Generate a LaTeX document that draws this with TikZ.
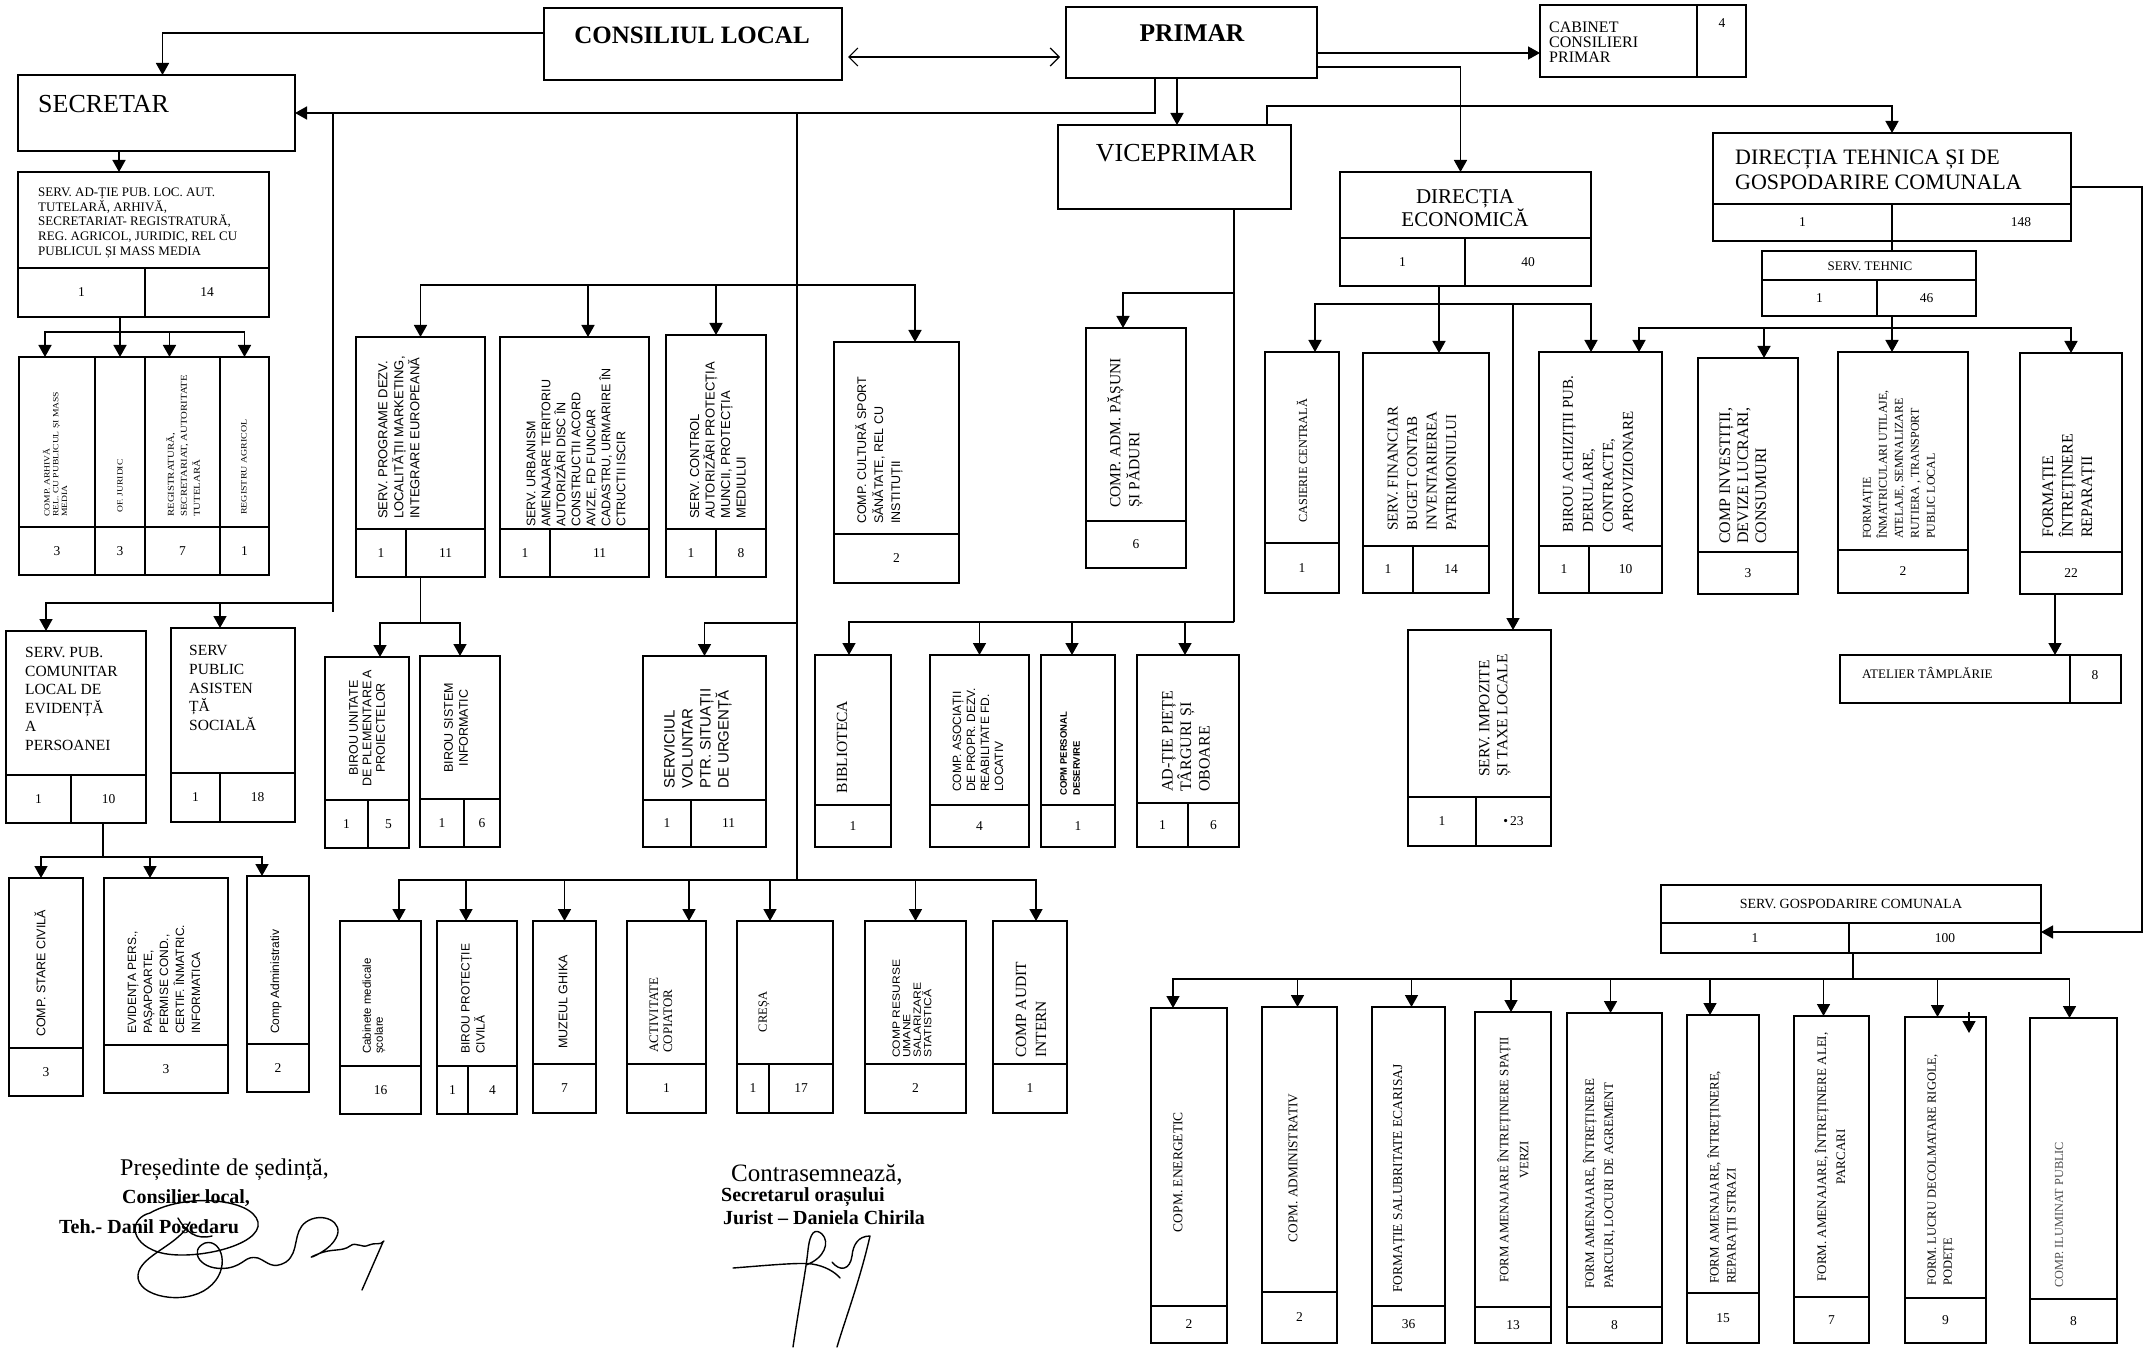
\documentclass[tikz,border=0pt]{standalone}
\usepackage{fontspec}
\setmainfont{Liberation Serif}
\newfontfamily\sa{Liberation Sans}
\newfontfamily\sw[FakeStretch=1.2]{Liberation Serif}
\newfontfamily\aw[FakeStretch=1.15]{Liberation Sans}
\usetikzlibrary{arrows.meta}
\newcommand\fs[2]{\fontsize{#1}{#2}\selectfont}
\newcommand\bx[5]{%
  \pgfmathsetmacro\bxw{#4-#2}\pgfmathsetmacro\bxh{#5-#3}%
  \pgfmathsetmacro\bxcx{(#2+#4)/2}\pgfmathsetmacro\bxcy{(#3+#5)/2}%
  \node[box, minimum width=\bxw pt, minimum height=\bxh pt] (#1) at (\bxcx,\bxcy) {};}
\newcommand\cb[9]{%
  \bx{#1}{#2}{#3}{#4}{#5}%
  \draw[cell] (#2,#6) -- (#4,#6);%
  \pgfmathsetmacro\ccy{(#6+#5)/2}%
  \ifnum#7=0\relax
    \pgfmathsetmacro\ccx{(#2+#4)/2}%
    \node[cnt] (#1-a) at (\ccx,\ccy) {#8};%
  \else
    \draw[cell] (#7,#6) -- (#7,#5);%
    \pgfmathsetmacro\ccx{(#2+#7)/2}%
    \node[cnt] (#1-a) at (\ccx,\ccy) {#8};%
    \pgfmathsetmacro\ccx{(#7+#4)/2}%
    \node[cnt] (#1-b) at (\ccx,\ccy) {#9};%
  \fi}
\begin{document}
\begin{tikzpicture}[x=1pt,y=-1pt,
  box/.style={draw,line width=1.8pt,inner sep=0pt,outer sep=0pt},
  cell/.style={line width=1.5pt},
  conn/.style={line width=1.6pt},
  arr/.style={line width=1.6pt,-{Triangle[width=13pt,length=12pt]}},
  dbl/.style={line width=1.2pt,{Straight Barb[length=9pt,width=18pt]}-{Straight Barb[length=9pt,width=18pt]}},
  cnt/.style={inner sep=0pt,font={\fs{13.5}{15}}},
  tx/.style={inner sep=0pt,align=left},
  rt/.style={rotate=90,inner sep=0pt,align=left},
  sig/.style={line width=1.4pt,line cap=round,line join=round}]
\fill[white] (0,0) rectangle (2148,1348);
\useasboundingbox (0,0) rectangle (2148,1348);

% ---------------- boxes
\bx{cl}{544}{8}{842}{80}
\bx{pr}{1066}{7}{1317}{78}
\bx{cab}{1540}{5}{1746}{77}
\draw[cell] (1697,5) -- (1697,77);
\bx{sec}{18}{75}{295}{151}
\bx{vice}{1058}{125}{1291}{209}
\cb{dec}{1340}{172}{1591}{286}{238}{1465}{1}{40}
\cb{dte}{1713}{133}{2071}{241}{204}{1892}{1}{}
\node[cnt] (dte-n) at (2021,222) {148};
\cb{ts}{1762}{251}{1976}{316}{280}{1877}{1}{46}
\cb{adt}{18}{172}{269}{317}{268}{145}{1}{14}
\cb{s1}{19}{357}{95}{575}{527}{0}{3}{}
\cb{s2}{95}{357}{145}{575}{527}{0}{3}{}
\cb{s3}{145}{357}{220}{575}{527}{0}{7}{}
\cb{s4}{220}{357}{269}{575}{527}{0}{1}{}
\cb{spub}{6}{631}{146}{823}{775}{71}{1}{10}
\cb{asist}{171}{628}{295}{822}{773}{220}{1}{18}
\cb{stare}{9}{878}{83}{1096}{1048}{0}{3}{}
\cb{evid}{104}{878}{228}{1093}{1045}{0}{3}{}
\cb{cadm}{247}{876}{309}{1092}{1044}{0}{2}{}
\cb{prog}{356}{337}{485}{577}{529}{406}{1}{11}
\cb{urb}{500}{337}{649}{577}{529}{550}{1}{11}
\cb{ctrl}{666}{335}{766}{577}{529}{716}{1}{8}
\cb{cult}{834}{342}{959}{583}{534}{0}{2}{}
\cb{pas}{1086}{328}{1186}{568}{521}{0}{6}{}
\cb{cas}{1265}{352}{1339}{593}{543}{0}{1}{}
\cb{fin}{1363}{353}{1489}{593}{546}{1413}{1}{14}
\cb{bir}{1539}{352}{1662}{593}{546}{1589}{1}{10}
\cb{inv}{1698}{358}{1798}{594}{552}{0}{3}{}
\cb{inm}{1838}{352}{1968}{593}{550}{0}{2}{}
\cb{intr}{2020}{353}{2122}{594}{552}{0}{22}{}
\bx{atel}{1840}{655}{2121}{703}
\draw[cell] (2070,655) -- (2070,703);
\cb{imp}{1408}{630}{1551}{846}{797}{1476}{1}{\textbullet\,23}
\cb{unit}{325}{657}{409}{848}{800}{368}{1}{5}
\cb{sist}{420}{656}{500}{847}{799}{464}{1}{6}
\cb{vol}{643}{656}{766}{847}{800}{691}{1}{11}
\cb{bibl}{815}{655}{891}{847}{805}{0}{1}{}
\cb{asoc}{930}{655}{1029}{847}{805}{0}{4}{}
\cb{pers}{1041}{655}{1115}{847}{805}{0}{1}{}
\cb{piete}{1137}{655}{1239}{847}{803}{1188}{1}{6}
\cb{cabm}{340}{921}{421}{1114}{1066}{0}{16}{}
\cb{prot}{437}{921}{517}{1114}{1066}{468}{1}{4}
\cb{muz}{533}{921}{596}{1113}{1064}{0}{7}{}
\cb{cop}{627}{921}{706}{1113}{1064}{0}{1}{}
\cb{cre}{737}{921}{833}{1113}{1064}{769}{1}{17}
\cb{res}{865}{921}{966}{1113}{1064}{0}{2}{}
\cb{aud}{993}{921}{1067}{1113}{1064}{0}{1}{}
\cb{gosp}{1661}{885}{2041}{953}{923}{1849}{1}{100}
\cb{b1}{1151}{1008}{1227}{1343}{1306}{0}{2}{}
\cb{b2}{1262}{1007}{1337}{1343}{1292}{0}{2}{}
\cb{b3}{1372}{1007}{1445}{1343}{1306}{0}{36}{}
\cb{b4}{1475}{1012}{1551}{1343}{1307}{0}{13}{}
\cb{b5}{1567}{1013}{1662}{1343}{1307}{0}{8}{}
\cb{b6}{1687}{1015}{1759}{1343}{1293}{0}{15}{}
\cb{b7}{1794}{1016}{1869}{1343}{1297}{0}{7}{}
\cb{b8}{1905}{1017}{1986}{1343}{1298}{0}{9}{}
\cb{b9}{2030}{1018}{2117}{1343}{1299}{0}{8}{}

% ---------------- horizontal texts
\node[tx,font={\bfseries\fs{25}{28}}] (cl-t) at (692,35) {CONSILIUL LOCAL};
\node[tx,font={\bfseries\fs{25.5}{28}}] (pr-t) at (1192,33) {PRIMAR};
\node[tx,font={\fs{16}{15}},anchor=west] (cab-t) at (1549,42) {CABINET\\CONSILIERI\\PRIMAR};
\node[cnt] (cab-n) at (1722,23) {4};
\node[tx,font={\fs{26}{28}},anchor=west] (sec-t) at (38,104) {SECRETAR};
\node[tx,font={\fs{26}{28}}] (vice-t) at (1176,153) {VICEPRIMAR};
\node[tx,align=center,font={\fs{21}{23}}] (dec-t) at (1465,208) {DIRECȚIA\\ECONOMICĂ};
\node[tx,font={\fs{22}{25}},anchor=west] (dte-t) at (1735,170) {DIRECȚIA TEHNICA ȘI DE\\GOSPODARIRE COMUNALA};
\node[tx,font={\fs{13}{15}}] (ts-t) at (1870,266) {SERV. TEHNIC};
\node[tx,font={\fs{13}{14.7}},anchor=west] (adt-t) at (38,223) {SERV. AD-ȚIE PUB. LOC. AUT.\\TUTELARĂ, ARHIVĂ,\\SECRETARIAT- REGISTRATURĂ,\\REG. AGRICOL, JURIDIC, REL CU\\PUBLICUL ȘI MASS MEDIA};
\node[tx,font={\fs{15.5}{18.6}},anchor=west] (spub-t) at (25,699) {SERV. PUB.\\COMUNITAR\\LOCAL DE\\EVIDENȚĂ\\A\\PERSOANEI};
\node[tx,font={\fs{15.5}{18.6}},anchor=west] (asist-t) at (189,688) {SERV\\PUBLIC\\ASISTEN\\ȚĂ\\SOCIALĂ};
\node[tx,font={\fs{13}{15}},anchor=west] (atel-t) at (1862,673) {ATELIER TÂMPLĂRIE};
\node[cnt] (atel-n) at (2095,675) {8};
\node[tx,font={\fs{14}{16}}] (gosp-t) at (1851,904) {SERV. GOSPODARIRE COMUNALA};

% ---------------- rotated texts
\node[rt,font={\sw\fs{8}{8.7}},anchor=west] (s1-t) at (55,517) {COMP. ARHIVĂ\\REL. CU PUBLICUL ȘI MASS\\MEDIA};
\node[rt,font={\sw\fs{8}{9}}] (s2-t) at (120,486) {OF. JURIDIC};
\node[rt,font={\sw\fs{9}{13}},anchor=west] (s3-t) at (183,517) {REGISTRATURĂ,\\SECRETARIAT, AUTORITATE\\TUTELARĂ};
\node[rt,font={\sw\fs{8.3}{9}},anchor=west] (s4-t) at (244,515) {REGISTRU AGRICOL};
\node[rt,font={\sa\fs{13}{16}},anchor=west] (prog-t) at (399,519) {SERV. PROGRAME DEZV.\\LOCALITĂȚII MARKETING,\\INTEGRARE EUROPEANĂ};
\node[rt,font={\sa\fs{12.5}{15}},anchor=west] (urb-t) at (576,527) {SERV. URBANISM\\AMENAJARE TERITORIU\\AUTORIZĂRI DISC ÎN\\CONSTRUCTII ACORD\\AVIZE, FD FUNCIAR\\CADASTRU, URMARIRE ÎN\\CTRUCTII ISCIR};
\node[rt,font={\sa\fs{13}{15.5}},anchor=west] (ctrl-t) at (718,519) {SERV. CONTROL\\AUTORIZĂRI PROTECȚIA\\MUNCII, PROTECȚIA\\MEDIULUI};
\node[rt,font={\sa\fs{12.5}{17}},anchor=west] (cult-t) at (879,524) {COMP. CULTURĂ SPORT\\SĂNĂTATE, REL CU\\INSTITUȚII};
\node[rt,font={\fs{15.5}{19}},anchor=west] (pas-t) at (1125,508) {COMP. ADM. PĂȘUNI\\ȘI PĂDURI};
\node[rt,font={\fs{12.3}{14}},anchor=west] (cas-t) at (1302,523) {CASIERIE CENTRALĂ};
\node[rt,font={\fs{15}{19.5}},anchor=west] (fin-t) at (1422,531) {SERV. FINANCIAR\\BUGET CONTAB\\INVENTARIEREA\\PATRIMONIULUI};
\node[rt,font={\fs{15}{20}},anchor=west] (bir-t) at (1598,533) {BIROU ACHIZIȚII PUB.\\DERULARE,\\CONTRACTE,\\APROVIZIONARE};
\node[rt,font={\fs{16}{18}},anchor=west] (inv-t) at (1743,544) {COMP INVESTIȚII,\\DEVIZE LUCRARI,\\CONSUMURI};
\node[rt,font={\fs{12}{16}},anchor=west] (inm-t) at (1899,539) {FORMAȚIE\\ÎNMATRICULARI UTILAJE,\\ATELAJE, SEMNALIZARE\\RUTIERA , TRANSPORT\\PUBLIC LOCAL};
\node[rt,font={\fs{16}{19.5}},anchor=west] (intr-t) at (2069,538) {FORMAȚIE\\ÎNTREȚINERE\\REPARAȚII};
\node[rt,font={\fs{15.5}{18}},anchor=west] (imp-t) at (1495,777) {SERV. IMPOZITE\\ȘI TAXE LOCALE};
\node[rt,align=center,font={\sa\fs{12.5}{13.5}}] (unit-t) at (367,728) {BIROU UNITATE\\DE PLEMENTARE A\\PROIECTELOR};
\node[rt,align=center,font={\sa\fs{12.5}{15}}] (sist-t) at (456,728) {BIROU SISTEM\\INFORMATIC};
\node[rt,font={\sa\fs{15}{18}},anchor=west] (vol-t) at (698,789) {SERVICIUL\\VOLUNTAR\\PTR. SITUAȚII\\DE URGENȚĂ};
\node[rt,font={\fs{15.5}{18}}] (bibl-t) at (842,747) {BIBLIOTECA};
\node[rt,font={\sa\fs{12}{14}},anchor=west] (asoc-t) at (978,792) {COMP. ASOCIAȚII\\DE PROPR. DEZV.\\REABILITATE FD.\\LOCATIV};
\node[rt,font={\sa\bfseries\fs{9.5}{13}},anchor=west] (pers-t) at (1070,796) {COPM PERSONAL\\DESERVIRE};
\node[rt,font={\fs{16}{18.5}},anchor=west] (piete-t) at (1186,792) {AD-ȚIE PIEȚE\\TÂRGURI ȘI\\OBOARE};
\node[rt,font={\sa\fs{12.5}{14}},anchor=west] (stare-t) at (40,1037) {COMP. STARE CIVILĂ};
\node[rt,font={\sa\fs{12}{16}},anchor=west] (evid-t) at (164,1034) {EVIDENȚA PERS.,\\PAȘAPOARTE,\\PERMISE COND.,\\CERTIF. ÎNMATRIC.\\INFORMATICA};
\node[rt,font={\sa\fs{12}{14}},anchor=west] (cadm-t) at (276,1034) {Comp Administrativ};
\node[rt,font={\sa\fs{11.5}{12}},anchor=west] (cabm-t) at (374,1054) {Cabinete medicale\\școlare};
\node[rt,font={\sa\fs{12}{15}},anchor=west] (prot-t) at (473,1054) {BIROU PROTECȚIE\\CIVILĂ};
\node[rt,font={\sa\fs{12.5}{14}}] (muz-t) at (563,1002) {MUZEUL GHIKA};
\node[rt,font={\fs{13}{14}},anchor=west] (cop-t) at (661,1053) {ACTIVITATE\\COPIATOR};
\node[rt,font={\fs{12.5}{14}}] (cre-t) at (764,1012) {CREȘA};
\node[rt,font={\aw\fs{10.5}{10.5}},anchor=west] (res-t) at (912,1058) {COMP RESURSE\\UMANE\\SALARIZARE\\STATISTICĂ};
\node[rt,font={\fs{15.5}{20}},anchor=west] (aud-t) at (1031,1058) {COMP AUDIT\\INTERN};
\node[rt,font={\fs{13.5}{15}}] (b1-t) at (1178,1172) {COPM. ENERGETIC};
\node[rt,font={\fs{13.3}{15}}] (b2-t) at (1293,1168) {COPM. ADMINISTRATIV};
\node[rt,font={\fs{13.5}{15}},anchor=west] (b3-t) at (1399,1293) {FORMAȚIE SALUBRITATE ECARISAJ};
\node[rt,align=center,font={\fs{12.8}{20}}] (b4-t) at (1513,1160) {FORM AMENAJARE ÎNTREȚINERE SPAȚII\\VERZI};
\node[rt,font={\fs{13}{19}},anchor=west] (b5-t) at (1599,1289) {FORM AMENAJARE, ÎNTREȚINERE\\PARCURI, LOCURI DE AGREMENT};
\node[rt,font={\fs{13}{17}},anchor=west] (b6-t) at (1723,1284) {FORM AMENAJARE, ÎNTREȚINERE,\\REPARAȚII STRAZI};
\node[rt,align=center,font={\fs{13}{19}}] (b7-t) at (1830,1157) {FORM. AMENAJARE, ÎNTREȚINERE ALEI,\\PARCARI};
\node[rt,font={\fs{12.5}{16}},anchor=west] (b8-t) at (1941,1286) {FORM. LUCRU DECOLMATARE RIGOLE,\\PODEȚE};
\node[rt,font={\fs{12.3}{14}},anchor=west,text=black!70] (b9-t) at (2059,1288) {COMP. ILUMINAT PUBLIC};

% ---------------- connectors
\coordinate (c1) at ([yshift=11pt]cl.west);
\draw[arr] (c1) -| ([xshift=6pt]sec.north);
\coordinate (c2) at ([yshift=-13pt]cl.east);
\draw[dbl,shorten <=6pt,shorten >=6pt] (c2) -- (c2 -| pr.west);
\coordinate (c3) at ([yshift=-10.5pt]pr.east);
\draw[arr] (c3) -- (c3 -| cab.west);
\coordinate (c4) at ([yshift=-24.5pt]pr.east);
\draw[arr] (c4) -| ([xshift=-5pt]dec.north);
\coordinate (c5) at ([xshift=-14.5pt]pr.south);
\draw[arr] (c5) -- (c5 |- vice.north);
\coordinate (c6) at ([xshift=-36.5pt]pr.south);
\draw[arr] (c6) |- (sec.east);
\coordinate (jL) at (333,113);
\coordinate (jM) at (797,113);
\coordinate (c7) at ([xshift=92.5pt]vice.north);
\draw[arr] (c7) -- ++(0pt,19pt) -| (dte.north);
\coordinate (c8) at ([xshift=-37.5pt]sec.south);
\draw[arr] (c8) -- (c8 |- adt.north);
\coordinate (c9) at ([xshift=-23.5pt]adt.south);
\coordinate (c9b) at ([yshift=-15pt]c9);
\draw[conn] (c9) -- (c9b);
\foreach \nm/\sh in {s1/-12,s2/0,s3/-13,s4/0} \draw[arr] (c9b) -| ([xshift=\sh pt]\nm.north);
\coordinate (jLb) at (333,603);
\coordinate (jLe) at (333,612);
\draw[conn] (jL) -- (jLe);
\draw[arr] (jLb) -| ([xshift=-30pt]spub.north);
\draw[arr] (jLb) -| ([xshift=-13pt]asist.north);
\coordinate (c10) at ([xshift=27pt]spub.south);
\coordinate (c10b) at ([yshift=-34pt]c10);
\draw[conn] (c10) -- (c10b);
\foreach \nm/\sh in {stare/-5,evid/-16,cadm/-16} \draw[arr] (c10b) -| ([xshift=\sh pt]\nm.north);
\coordinate (jMe) at (797,880);
\draw[conn] (jM) -- (jMe);
\coordinate (jM1) at (797,285);
\foreach \nm/\sh in {prog/0,urb/13.5,ctrl/0,cult/18.5} \draw[arr] (jM1) -| ([xshift=\sh pt]\nm.north);
\coordinate (jM2) at (797,623);
\draw[arr] (jM2) -| (vol.north);
\foreach \nm/\sh in {cabm/18.5,prot/-11,muz/0,cop/22.5,cre/-15,res/0,aud/6} \draw[arr] (jMe) -| ([xshift=\sh pt]\nm.north);
\coordinate (c11) at (prog.south);
\coordinate (c11b) at ([yshift=-46pt]c11);
\draw[conn] (c11) -- (c11b);
\draw[arr] (c11b) -| ([xshift=13pt]unit.north);
\draw[arr] (c11b) -| (sist.north);
\coordinate (c12) at ([xshift=59.5pt]vice.south);
\coordinate (jV1) at ([yshift=-84pt]c12);
\coordinate (jV2) at ([yshift=-413pt]c12);
\draw[conn] (c12) -- (jV2);
\draw[arr] (jV1) -| ([xshift=-13pt]pas.north);
\foreach \nm/\sh in {bibl/-4,asoc/0,pers/-6,piete/-3} \draw[arr] (jV2) -| ([xshift=\sh pt]\nm.north);
\coordinate (c13) at ([xshift=-26.5pt]dec.south);
\coordinate (c13b) at ([yshift=-18pt]c13);
\draw[conn] (c13) -- (c13b);
\foreach \nm/\sh in {cas/13,fin/13,bir/-9.5,imp/33.5} \draw[arr] (c13b) -| ([xshift=\sh pt]\nm.north);
\draw[conn] (dte.south) -- (dte.south |- ts.north);
\coordinate (c14) at (dte.south |- ts.south);
\coordinate (c14b) at ([yshift=-12pt]c14);
\draw[conn] (c14) -- (c14b);
\foreach \nm/\sh in {bir/38.5,inv/16,inm/-11,intr/0} \draw[arr] (c14b) -| ([xshift=\sh pt]\nm.north);
\coordinate (c15) at ([xshift=-16pt]intr.south);
\draw[arr] (c15) -- (c15 |- atel.north);
\coordinate (c16) at ([yshift=-13pt]gosp.east);
\draw[arr] (dte.east) -- ++(71pt,0pt) |- (c16);
\coordinate (c17) at ([xshift=2pt]gosp.south);
\coordinate (c17b) at ([yshift=-26pt]c17);
\draw[conn] (c17) -- (c17b);
\foreach \nm/\sh in {b1/-16,b2/-2,b3/3,b4/-2,b5/-4,b6/-13,b7/-8,b8/-8,b9/-4} \draw[arr] (c17b) -| ([xshift=\sh pt]\nm.north);
\coordinate (c18) at ([xshift=23.5pt,yshift=5pt]b8.north);
\draw[arr] (c18) -- ++(0pt,-21pt);

% ---------------- signatures
\node[tx,font={\fs{24}{26}},anchor=west] (sg1) at (120,1170) {Președinte de ședință,};
\node[tx,font={\bfseries\fs{20}{22}},anchor=west] (sg2) at (122,1198) {Consilier local,};
\node[tx,font={\bfseries\fs{20}{22}},anchor=west] (sg3) at (59,1227) {Teh.- Danil Posedaru};
\node[tx,font={\fs{25}{27}},anchor=west] (sg4) at (731,1175) {Contrasemnează,};
\node[tx,font={\bfseries\fs{20}{22}},anchor=west] (sg5) at (721,1197) {Secretarul orașului};
\node[tx,font={\bfseries\fs{20}{22}},anchor=west] (sg6) at (723,1218) {Jurist – Daniela Chirila};
\draw[sig] (150,1213) .. controls (185,1193) and (252,1198) .. (258,1222) .. controls (263,1246) and (190,1262) .. (158,1252) .. controls (128,1242) and (130,1218) .. (150,1213);
\draw[sig] (190,1222) .. controls (180,1245) and (140,1255) .. (138,1275) .. controls (136,1297) and (185,1306) .. (208,1288) .. controls (232,1270) and (222,1238) .. (205,1243) .. controls (188,1250) and (200,1272) .. (228,1268) .. controls (245,1265) and (245,1255) .. (258,1258) .. controls (268,1262) and (272,1270) .. (286,1262) .. controls (300,1252) and (292,1232) .. (306,1222) .. controls (322,1211) and (345,1222) .. (336,1238) .. controls (328,1254) and (298,1262) .. (318,1254) .. controls (332,1248) and (342,1252) .. (350,1246) .. controls (356,1241) and (362,1249) .. (369,1245) .. controls (375,1242) and (380,1246) .. (384,1241);
\draw[sig] (383,1242) -- (362,1290);
\draw[sig] (178,1218) .. controls (186,1232) and (196,1240) .. (212,1236);
\draw[sig] (733,1268) .. controls (760,1266) and (800,1262) .. (812,1264) .. controls (825,1266) and (835,1272) .. (840,1278);
\draw[sig] (793,1347) .. controls (800,1300) and (806,1270) .. (808,1250) .. controls (810,1232) and (815,1228) .. (822,1234) .. controls (830,1242) and (825,1258) .. (806,1265);
\draw[sig] (832,1262) .. controls (840,1272) and (850,1270) .. (852,1256) .. controls (853,1245) and (858,1236) .. (870,1236) .. controls (860,1280) and (845,1320) .. (837,1347);
\end{tikzpicture}
\end{document}
